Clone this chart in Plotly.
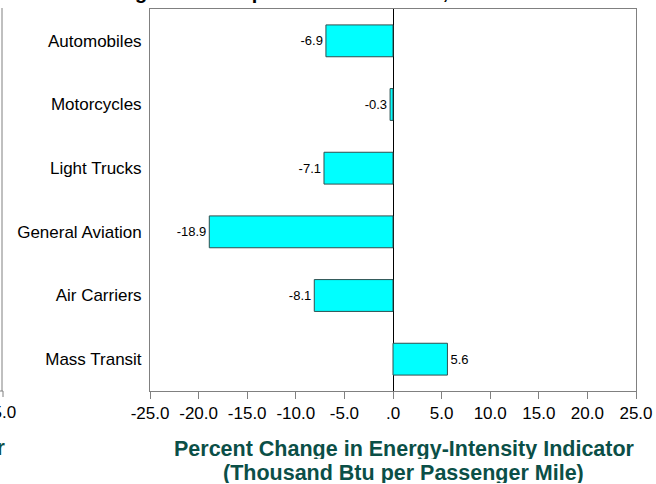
import plotly.graph_objects as go

categories = ["Automobiles", "Motorcycles", "Light Trucks", "General Aviation", "Air Carriers", "Mass Transit"]
values = [-6.9, -0.3, -7.1, -18.9, -8.1, 5.6]
tick_vals = [-25, -20, -15, -10, -5, 0, 5, 10, 15, 20, 25]
tick_text = ["-25.0", "-20.0", "-15.0", "-10.0", "-5.0", ".0", "5.0", "10.0", "15.0", "20.0", "25.0"]

FONT = "Arial, Liberation Sans, sans-serif"
TEAL = "#0b4f47"
GRAY = "#808080"

W, H = 656, 484
L, R, T, B = 150, 20, 9, 93
PW, PH = W - L - R, H - T - B

def px(x):
    return (x - L) / PW

def py(y):
    return (H - B - y) / PH

fig = go.Figure()
fig.add_trace(go.Bar(
    y=categories, x=values, orientation="h", width=0.5,
    marker=dict(color="#00ffff", line=dict(color="#2f4f4f", width=1)),
    text=[f"{v:.1f}" for v in values], textposition="outside",
    textfont=dict(family=FONT, size=13, color="black"),
    cliponaxis=False, showlegend=False, hoverinfo="skip",
))

fig.update_layout(
    width=W, height=H,
    margin=dict(l=L, r=R, t=T, b=B, autoexpand=False),
    plot_bgcolor="white", paper_bgcolor="white",
    font=dict(family=FONT, color="black"),
    bargap=0.5,
    xaxis=dict(
        range=[-25, 25], tickvals=tick_vals, ticktext=tick_text,
        ticks="outside", ticklen=7, tickcolor=GRAY, tickwidth=1,
        tickfont=dict(family=FONT, size=17, color="black"),
        showline=True, linecolor=GRAY, linewidth=1, mirror=True,
        showgrid=False, zeroline=True, zerolinecolor="black", zerolinewidth=1,
        automargin=False, fixedrange=True,
    ),
    yaxis=dict(
        categoryorder="array", categoryarray=categories, autorange="reversed",
        ticks="", ticklabelstandoff=4,
        tickfont=dict(family=FONT, size=17, color="black"),
        showline=True, linecolor=GRAY, linewidth=1, mirror=True,
        showgrid=False, zeroline=False,
        automargin=False, fixedrange=True,
    ),
)

annotations = [
    dict(text="<b>Percent Change in Energy-Intensity Indicator</b>", x=px(404), y=py(448),
         xref="paper", yref="paper", xanchor="center", yanchor="middle", showarrow=False,
         height=21, borderpad=0, font=dict(family=FONT, size=21.5, color=TEAL)),
    dict(text="<b>(Thousand Btu per Passenger Mile)</b>", x=px(403), y=py(472),
         xref="paper", yref="paper", xanchor="center", yanchor="middle", showarrow=False,
         height=21, borderpad=0, font=dict(family=FONT, size=21.5, color=TEAL)),
    # fragments of the neighbouring panel and the cut-off title
    dict(text="25.0", x=px(18), y=py(413), xref="paper", yref="paper",
         xanchor="right", yanchor="middle", showarrow=False,
         font=dict(family=FONT, size=17, color="black")),
    dict(text="<b>Indicator</b>", x=px(7), y=py(448), xref="paper", yref="paper",
         xanchor="right", yanchor="middle", showarrow=False,
         font=dict(family=FONT, size=21.5, color=TEAL)),
    dict(text="<b>Changes in Transportation Intensities, 1985-1994</b>", x=px(83), y=py(5),
         xref="paper", yref="paper", xanchor="left", yanchor="bottom", showarrow=False,
         font=dict(family=FONT, size=20, color="black")),
]
fig.update_layout(annotations=annotations)

fig.add_shape(type="line", xref="paper", yref="paper", x0=px(2), x1=px(2), y0=py(8), y1=py(391),
              line=dict(color=GRAY, width=1))
fig.add_shape(type="line", xref="paper", yref="paper", x0=px(0), x1=px(3), y0=py(391), y1=py(391),
              line=dict(color=GRAY, width=1))
fig.add_shape(type="line", xref="paper", yref="paper", x0=px(3), x1=px(3), y0=py(391), y1=py(397),
              line=dict(color=GRAY, width=1))

fig.write_html(
    "out.html",
    config={"displayModeBar": False, "staticPlot": True},
    post_script="document.body.style.margin='0';document.body.style.overflow='hidden';",
)
